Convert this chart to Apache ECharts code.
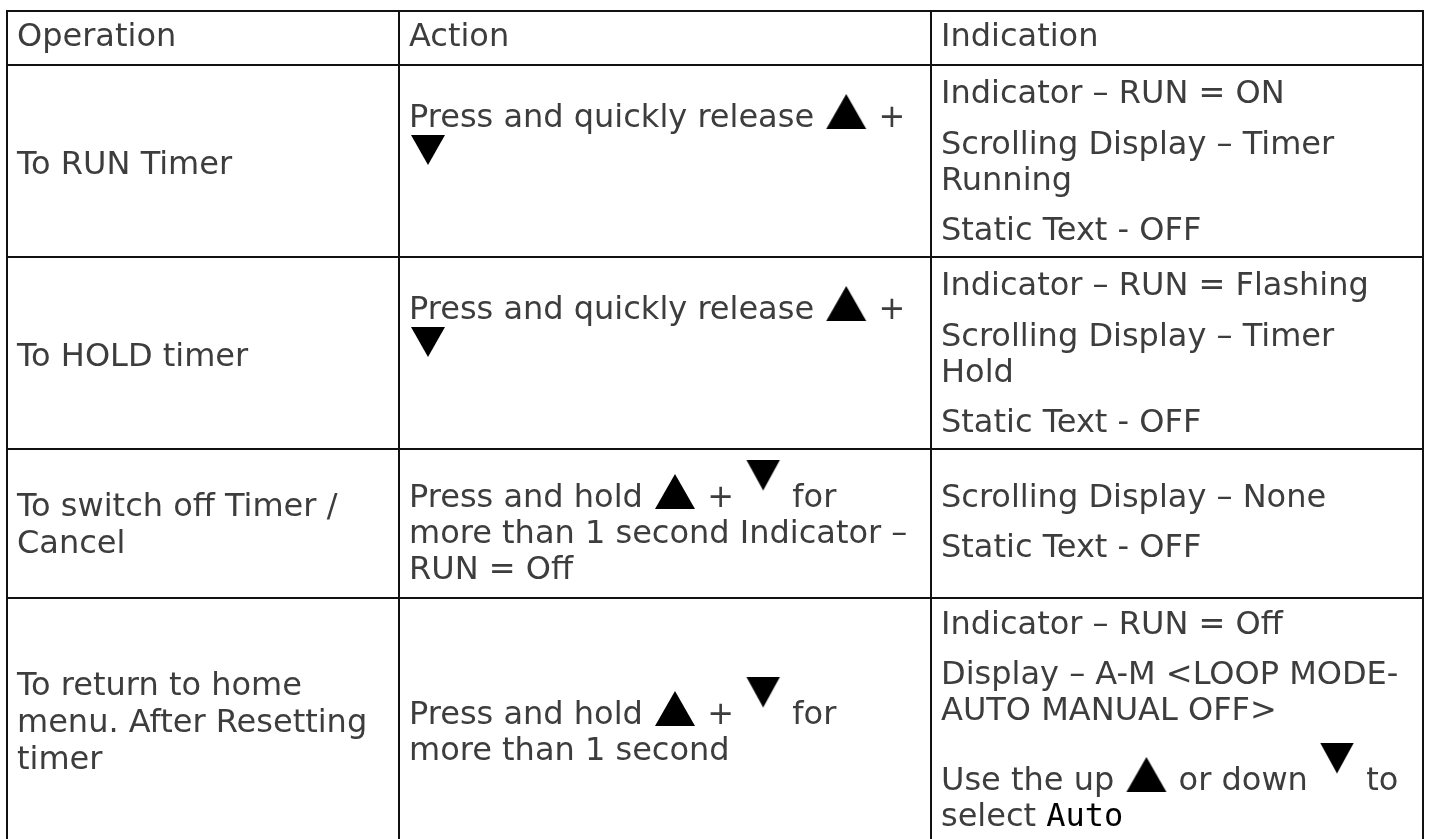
<!DOCTYPE html>
<html>
<head>
<meta charset="utf-8">
<script src="https://cdn.jsdelivr.net/npm/echarts@6/dist/echarts.min.js"></script>
<style>
  html, body { margin: 0; padding: 0; background: #fff; }
  #chart { width: 1430px; height: 839px; }
</style>
</head>
<body>
<div id="chart"></div>
<script>
// ---- data ----
const headers = ['Operation', 'Action', 'Indication'];
const rowKeys = ['run', 'hold', 'off', 'home'];
const operations = [
  ['To RUN Timer'],
  ['To HOLD timer'],
  ['To switch off Timer /', 'Cancel'],
  ['To return to home', 'menu. After Resetting', 'timer']
];
const actions = [
  ['Press and quickly release ▲ +', '▼'],
  ['Press and quickly release ▲ +', '▼'],
  ['Press and hold ▲ + ▼ for', 'more than 1 second Indicator –', 'RUN = Off'],
  ['Press and hold ▲ + ▼ for', 'more than 1 second']
];
const indications = [
  [['Indicator – RUN = ON'], ['Scrolling Display – Timer', 'Running'], ['Static Text - OFF']],
  [['Indicator – RUN = Flashing'], ['Scrolling Display – Timer', 'Hold'], ['Static Text - OFF']],
  [['Scrolling Display – None'], ['Static Text - OFF']],
  [['Indicator – RUN = Off'], ['Display – A-M <LOOP MODE-', 'AUTO MANUAL OFF>'], ['Use the up ▲ or down ▼ to', 'select Auto']]
];

// ---- layout (not data) ----
const colWidths = [392, 532, 492];
const headerHeight = 54;
const rowHeights = [192, 192, 149, 245];
const opLayout = [
  { lead: 80, lh: 37 },
  { lead: 80, lh: 37 },
  { lead: 38, lh: 37 },
  { lead: 68, lh: 37 }
];
const actLayout = [
  { lead: 34, dn: 'dnLow' },
  { lead: 34, dn: 'dnLow' },
  { lead: 30, dn: 'dnHigh' },
  { lead: 98, dn: 'dnHigh' }
];
const indLayout = [
  { lead: 10, gaps: [15, 14] },
  { lead: 10, gaps: [15, 14] },
  { lead: 30, gaps: [14] },
  { lead: 8, gaps: [14, 34], dn: 'dnHigh' }
];

const FONT = 'DejaVu Sans';
const TEXT_COLOR = '#3d3d3d';
const LINE_COLOR = '#111111';

// triangle glyph icons (drawn into small canvases used as rich-text images)
function triIcon(w, h, triTop, triH, pointUp, margin) {
  const c = document.createElement('canvas');
  c.width = w; c.height = h;
  const g = c.getContext('2d');
  g.fillStyle = '#000';
  g.beginPath();
  const l = margin, r = w - margin;
  if (pointUp) {
    g.moveTo((l + r) / 2, triTop); g.lineTo(r, triTop + triH); g.lineTo(l, triTop + triH);
  } else {
    g.moveTo(l, triTop); g.lineTo(r, triTop); g.lineTo((l + r) / 2, triTop + triH);
  }
  g.closePath();
  g.fill();
  return c;
}
const upImg = triIcon(44, 50, 0, 35, true, 2);
const dnHighImg = triIcon(38, 79, 0, 31, false, 2);
const dnLowImg = triIcon(38, 40, 0, 30, false, 2);

function richLine(line, dnStyle, tStyle) {
  return line.split(/(▲|▼|Auto$)/).filter(p => p !== '').map(p => {
    if (p === '▲') return '{up|}';
    if (p === '▼') return '{' + (dnStyle || 'dnHigh') + '|}';
    if (p === 'Auto') return '{seg|Auto}';
    return '{' + tStyle + '|' + p + '}';
  }).join('');
}
function spacer(h) { return '{sp' + h + '| }'; }

function buildCell(paragraphs, lay) {
  const lines = [];
  const tStyle = lay.lh ? 't' + lay.lh : 't';
  if (lay.lead) lines.push(spacer(lay.lead));
  paragraphs.forEach((para, pi) => {
    if (pi > 0 && lay.gaps && lay.gaps[pi - 1]) lines.push(spacer(lay.gaps[pi - 1]));
    para.forEach(l => lines.push(richLine(l, lay.dn, tStyle)));
  });
  return lines.join('\n');
}

const rich = {
  t: { fontFamily: FONT, fontSize: 32, lineHeight: 36, color: TEXT_COLOR },
  t37: { fontFamily: FONT, fontSize: 32, lineHeight: 37, color: TEXT_COLOR },
  up: { width: 44, height: 50, lineHeight: 36, backgroundColor: { image: upImg } },
  dnLow: { width: 38, height: 40, lineHeight: 36, backgroundColor: { image: dnLowImg } },
  dnHigh: { width: 38, height: 79, lineHeight: 36, backgroundColor: { image: dnHighImg } },
  seg: { fontFamily: 'DejaVu Sans Mono', fontSize: 32, lineHeight: 36, color: '#000' }
};
[opLayout, actLayout, indLayout].forEach(arr => arr.forEach(l => {
  [l.lead].concat(l.gaps || []).forEach(h => {
    if (h) rich['sp' + h] = { fontSize: 10, lineHeight: h };
  });
}));

const bodyData = [];
rowKeys.forEach((k, r) => {
  bodyData.push({ coord: [0, r], value: buildCell([operations[r]], opLayout[r]) });
  bodyData.push({ coord: [1, r], value: buildCell([actions[r]], actLayout[r]) });
  bodyData.push({ coord: [2, r], value: buildCell(indications[r], indLayout[r]) });
});

const chart = echarts.init(document.getElementById('chart'));
chart.setOption({
  backgroundColor: '#fff',
  animation: false,
  matrix: {
    left: 7,
    top: 11,
    width: colWidths.reduce((a, b) => a + b, 0),
    height: headerHeight + rowHeights.reduce((a, b) => a + b, 0),
    x: {
      show: true,
      levelSize: headerHeight,
      data: headers.map((h, i) => ({ value: h, size: colWidths[i] })),
      label: {
        position: 'insideLeft', distance: 7, align: 'left', offset: [0, 4],
        fontFamily: FONT, fontSize: 32, color: TEXT_COLOR, overflow: 'none'
      },
      itemStyle: { color: '#fff', borderColor: LINE_COLOR, borderWidth: 2 },
      dividerLineStyle: { color: LINE_COLOR, width: 2 }
    },
    y: {
      show: false,
      data: rowKeys.map((k, i) => ({ value: k, size: rowHeights[i] }))
    },
    body: {
      data: bodyData,
      label: {
        position: 'insideLeft', distance: 7, align: 'left',
        fontFamily: FONT, fontSize: 32, color: TEXT_COLOR, overflow: 'none',
        rich: rich
      },
      itemStyle: { color: '#fff', borderColor: LINE_COLOR, borderWidth: 2 }
    },
    backgroundStyle: { color: '#fff', borderColor: LINE_COLOR, borderWidth: 2 }
  }
});
</script>
</body>
</html>
